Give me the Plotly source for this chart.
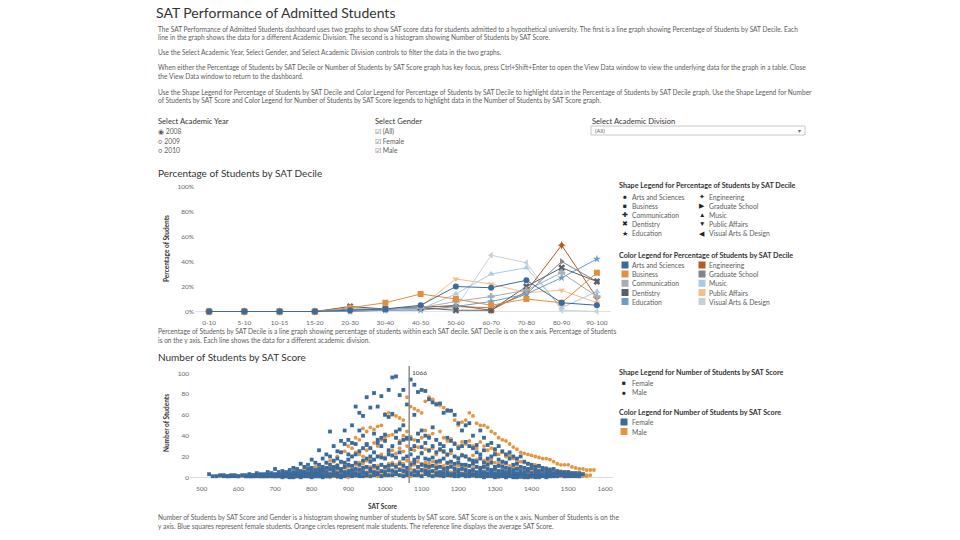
import plotly.graph_objects as go

N = None
# ---------------- data: Percentage of Students by SAT Decile ----------------
deciles = ["0-10", "5-10", "10-15", "15-20", "20-30", "30-40", "40-50",
           "50-60", "60-70", "70-80", "80-90", "90-100"]
divisions = ["Arts and Sciences", "Business", "Communication", "Dentistry", "Education",
             "Engineering", "Graduate School", "Music", "Public Affairs", "Visual Arts & Design"]
pct_arts = [0, 0, 0, 0, 1, 2, 5, 20, 19, 25, 7, 5]
pct_business = [0, 0, 0, 0, 3, 7, 14, 10, 5, 10, 7, 31]
pct_communication = [0, 0, 0, 0, 1, 2, 3, 8, 12, 17, 31, 12]
pct_dentistry = [0, 0, 0, 0, 4, 2, 3, 1, 1, 20, 35, 24]
pct_education = [0, 0, 0, 0, 0, 1, 1, 4, 8, 14, 27, 42]
pct_engineering = [0, 0, 0, 0, 1, 2, 3, 5, 1, 16, 53, 11]
pct_graduate = [0, 0, 0, 0, 2, 2, 4, 4, 3, 14, 40, 24]
pct_music = [0, 0, 0, 0, 0, 1, 2, 14, 30, 35, 3, 16]
pct_public = [0, 0, 0, 0, 1, 2, 4, 26, 22, 15, 17, 7]
pct_visual = [0, 0, 0, 0, 0, 1, 2, 3, 45, 39, 1, 0]
pct_series = [pct_arts, pct_business, pct_communication, pct_dentistry, pct_education,
              pct_engineering, pct_graduate, pct_music, pct_public, pct_visual]
pct_ticks = [0, 20, 40, 60, 80, 100]
pct_tick_labels = ["0%", "20%", "40%", "60%", "80%", "100%"]

# ---------------- data: Number of Students by SAT Score ----------------
sat_scores = list(range(520, 1580, 10))   # score bins 520 ... 1570
avg_sat = 1066
sat_ticks = [500, 600, 700, 800, 900, 1000, 1100, 1200, 1300, 1400, 1500, 1600]
count_ticks = [0, 20, 40, 60, 80, 100]
genders = ["Female", "Male"]

female_1 = [3, N, N, 2, 2, 1, 2, 2, 1, 2,
            2, 3, 2, 4, 3, 3, 5, 4, 8, 5,
            6, 5, 7, 9, 8, 13, 10, 12, 17, 14,
            26, 18, 22, 44, 30, 25, 35, 45, 36, 50,
            68, 62, 59, 77, 67, 81, 68, 78, 60, 84,
            96, 97, 79, 84, 70, 94, 89, 82, 84, 83,
            75, 72, 70, 71, 62, 64, 64, 60, 52, 45,
            50, 52, 40, 31, 45, 38, 31, 33, 27, 30,
            25, 22, 24, 20, 18, 20, 15, 13, 12, 10,
            11, 9, 8, 7, 8, 6, 5, 5, 5, 4,
            4, 4, 3, N, N, N]
female_2 = [N, N, 1, N, 1, N, 1, N, 1, N,
            1, 1, N, 2, 1, 2, 2, 1, 3, 2,
            3, 4, 3, 5, 4, 6, 5, 8, 9, 7,
            12, 10, 14, 20, 16, 18, 24, 32, 22, 33,
            32, 45, 40, 31, 28, 42, 36, 38, 41, 58,
            61, 44, 46, 50, 38, 37, 60, 42, 45, 40,
            38, 48, 36, 32, 30, 38, 35, 32, 28, 30,
            34, 30, 28, 24, 22, 26, 18, 20, 22, 17,
            15, 14, 18, 12, 13, 10, 9, 8, 9, 7,
            6, 7, 5, 5, 4, 4, 3, 3, 2, 2,
            2, 1, N, N, N, N]
female_3 = [N, N, N, N, N, N, N, N, N, N,
            N, 1, 1, N, 1, N, 1, 2, 1, 1,
            2, 2, 3, 2, 4, 3, 5, 4, 6, 5,
            8, 7, 9, 12, 10, 11, 15, 14, 17, 20,
            22, 25, 28, 32, 20, 24, 33, 30, 35, 26,
            30, 38, 33, 36, 37, 27, 30, 35, 29, 33,
            26, 30, 24, 27, 25, 22, 26, 20, 18, 21,
            20, 17, 16, 15, 18, 14, 12, 14, 10, 11,
            10, 9, 8, 7, 8, 6, 5, 6, 4, 4,
            4, 3, 3, 2, 3, 2, 2, 1, 1, 1,
            1, N, N, N, N, N]
female_4 = [N, N, N, N, N, N, N, N, N, N,
            N, N, N, 1, N, N, 1, N, 1, N,
            1, 1, 2, 1, 2, 3, 2, 3, 4, 3,
            5, 6, 5, 8, 7, 9, 8, 10, 12, 11,
            14, 12, 16, 18, 15, 17, 20, 19, 18, 22,
            21, 19, 24, 18, 20, 22, 17, 19, 23, 18,
            17, 19, 15, 16, 18, 14, 15, 13, 14, 12,
            12, 11, 13, 10, 9, 10, 8, 7, 8, 6,
            6, 5, 5, 4, 4, 3, 3, 2, 2, 2,
            2, 1, 1, 1, N, 1, N, 1, N, N,
            N, 1, N, N, N, N]
female_5 = [N, N, N, N, N, N, N, N, N, N,
            1, N, 1, N, N, 1, N, N, 2, 1,
            N, 1, N, 1, 1, 1, 2, 1, 2, 2,
            3, 2, 4, 3, 5, 4, 6, 5, 6, 7,
            8, 7, 9, 10, 8, 11, 9, 12, 10, 11,
            12, 10, 13, 11, 9, 12, 14, 10, 12, 11,
            10, 11, 9, 10, 8, 9, 10, 8, 7, 8,
            7, 6, 7, 5, 6, 5, 4, 5, 4, 3,
            3, 3, 2, 2, 2, 1, 1, 1, 1, N,
            1, N, 1, N, 1, N, N, N, N, N,
            N, N, N, N, N, N]
female_6 = [N, 1, N, N, N, 1, N, 1, N, N,
            N, N, 2, N, N, 1, N, N, 1, N,
            N, N, 1, N, N, 1, 1, N, 1, 1,
            1, 2, 1, 2, 2, 3, 2, 3, 3, 4,
            4, 3, 5, 4, 6, 5, 4, 6, 5, 7,
            6, 5, 7, 6, 5, 4, 6, 5, 7, 6,
            5, 6, 4, 5, 4, 5, 3, 4, 4, 3,
            3, 4, 3, 2, 3, 2, 3, 2, 2, 2,
            2, 1, 2, 1, 1, 1, 1, N, 1, N,
            N, N, N, 1, N, N, N, N, N, N,
            N, N, N, N, N, N]
female_7 = [N, N, N, N, N, N, N, N, N, N,
            N, N, N, N, N, N, N, N, N, N,
            0, 1, 0, 0, 1, 0, 1, 1, 0, 1,
            1, 0, 1, 1, 2, 1, 0, 1, 2, 1,
            2, 1, 1, 2, 1, 2, 3, 1, 2, 2,
            2, 3, 2, 1, 2, 3, 2, 2, 1, 3,
            2, 1, 2, 2, 1, 2, 2, 1, 1, 2,
            1, 1, 2, 1, 1, 0, 1, 1, 0, 1,
            1, 0, 1, 0, 0, 1, 0, 0, N, 0,
            0, N, 0, N, N, N, N, N, N, N,
            N, N, N, N, N, N]

male_1 = [N, N, 1, N, N, 1, N, N, N, 1,
          N, 1, N, 1, 2, 1, 2, 2, 3, 2,
          4, 3, 5, 4, 6, 5, 8, 7, 9, 10,
          12, 10, 14, 16, 15, 20, 24, 25, 30, 28,
          38, 36, 47, 44, 48, 46, 49, 50, 61, 62,
          60, 59, 57, 55, 77, 68, 66, 64, 62, 73,
          77, 75, 71, 69, 67, 65, 64, 55, 50, 53,
          55, 62, 59, 52, 50, 50, 48, 44, 42, 38,
          36, 35, 32, 29, 27, 24, 23, 22, 21, 20,
          19, 18, 18, 17, 15, 13, 12, 12, 12, 10,
          9, 8, 8, 7, 7, 7]
male_2 = [N, N, N, 1, N, N, 1, N, N, N,
          N, N, N, N, 1, N, 1, 1, 1, 2,
          2, 2, 3, 2, 3, 4, 4, 5, 6, 5,
          7, 6, 8, 10, 9, 12, 14, 13, 17, 20,
          24, 22, 20, 26, 28, 33, 30, 36, 38, 40,
          41, 38, 35, 40, 44, 39, 36, 42, 38, 45,
          40, 42, 36, 44, 38, 35, 37, 33, 30, 34,
          32, 35, 30, 28, 34, 30, 26, 28, 24, 22,
          24, 20, 21, 18, 16, 15, 14, 13, 12, 12,
          10, 9, 9, 8, 7, 6, 6, 5, 5, 4,
          4, 3, 3, 2, 2, N]
male_3 = [N, N, N, N, N, N, N, N, N, N,
          N, N, 1, N, N, 1, N, 1, N, 1,
          1, 1, N, 1, 2, 1, 2, 2, 3, 3,
          4, 4, 5, 6, 5, 7, 8, 9, 10, 11,
          12, 14, 13, 16, 18, 17, 20, 22, 19, 24,
          26, 23, 28, 25, 30, 27, 26, 29, 24, 27,
          25, 28, 22, 26, 24, 21, 23, 20, 19, 22,
          20, 18, 21, 17, 19, 16, 15, 17, 14, 13,
          12, 13, 11, 10, 9, 9, 8, 7, 7, 6,
          6, 5, 5, 4, 4, 3, 3, 3, 2, 2,
          2, 2, 1, 1, N, N]
male_4 = [N, N, N, N, N, N, N, N, N, N,
          N, N, N, N, N, N, N, N, N, N,
          N, N, 1, N, 1, 1, N, 1, 2, 1,
          2, 2, 3, 3, 4, 3, 5, 5, 6, 6,
          7, 8, 7, 9, 10, 9, 11, 12, 10, 13,
          14, 12, 15, 13, 16, 14, 12, 15, 13, 14,
          13, 15, 12, 14, 11, 13, 12, 10, 11, 12,
          10, 11, 9, 10, 8, 9, 8, 7, 8, 6,
          6, 5, 6, 5, 4, 4, 3, 3, 3, 2,
          2, 2, 2, 1, 1, 1, 1, N, 1, N,
          N, N, N, N, N, N]
male_5 = [N, N, N, N, N, N, N, N, N, N,
          N, N, N, N, N, N, N, N, N, N,
          N, N, N, N, N, N, N, N, N, N,
          1, 1, 1, 2, 1, 2, 2, 3, 2, 3,
          3, 4, 3, 5, 4, 5, 6, 5, 7, 6,
          7, 6, 8, 7, 6, 8, 7, 9, 6, 8,
          7, 6, 7, 5, 6, 7, 5, 6, 5, 4,
          5, 4, 5, 4, 3, 4, 3, 3, 3, 2,
          2, 2, 2, 1, 2, 1, 1, 1, N, 1,
          N, N, N, N, N, N, N, N, N, N,
          N, N, N, N, N, N]
male_6 = [N, N, N, N, N, N, N, N, N, N,
          N, N, N, N, N, N, N, N, N, N,
          N, N, N, N, N, N, N, N, N, N,
          N, 0, 1, 0, 1, 0, 1, 1, 0, 1,
          1, 2, 1, 1, 2, 2, 1, 2, 3, 2,
          2, 3, 2, 3, 2, 1, 2, 3, 2, 3,
          2, 2, 3, 1, 2, 2, 1, 2, 1, 2,
          1, 2, 1, 1, 1, 2, 1, 1, 1, 0,
          1, 0, 1, 1, 0, 0, 1, 0, 0, N,
          N, N, N, N, N, N, N, N, N, N,
          N, N, N, N, N, N]
female_rows = [female_1, female_2, female_3, female_4, female_5, female_6, female_7]
male_rows = [male_1, male_2, male_3, male_4, male_5, male_6]

# ---------------- styles ----------------
W, H = 960, 540
FONT = "Lato"
div_colors = ["#3a6b9c", "#e38f3c", "#a6adb6", "#5a6069", "#6b9dc9",
              "#b65a1e", "#7e858d", "#a9cae6", "#f4bf88", "#c8cfd6"]
div_symbols = ["circle", "square", "cross", "x", "star",
               "star-diamond", "triangle-right", "triangle-up", "triangle-down", "triangle-left"]
div_glyphs = ["●", "■", "✚", "✖", "★", "✦", "▶", "▲", "▼", "◀"]
gender_glyphs = ["■", "●"]
FEMALE_C, MALE_C = "#3a6b9c", "#e5953f"
gender_colors = [FEMALE_C, MALE_C]


def px(x):
    return x / W


def py(y):
    return 1 - y / H


fig = go.Figure()

# line chart (drawn in reverse so Arts and Sciences sits on top)
for name, vals, col, sym in reversed(list(zip(divisions, pct_series, div_colors, div_symbols))):
    fig.add_trace(go.Scatter(
        x=deciles, y=vals, mode="lines+markers", name=name,
        line=dict(color=col, width=1),
        marker=dict(color=col, symbol=sym, size=6, line=dict(width=0)),
        xaxis="x", yaxis="y", showlegend=False))

# histogram-like scatter
for row in male_rows:
    fig.add_trace(go.Scatter(
        x=sat_scores, y=row, mode="markers", name="Male",
        marker=dict(color=MALE_C, symbol="circle", size=3.8, line=dict(width=0)),
        xaxis="x2", yaxis="y2", showlegend=False))
for row in female_rows:
    fig.add_trace(go.Scatter(
        x=sat_scores, y=row, mode="markers", name="Female",
        marker=dict(color=FEMALE_C, symbol="square", size=3.8, line=dict(width=0)),
        xaxis="x2", yaxis="y2", showlegend=False))

ann = []
shapes = []


def txt(x, y, s, size=6, color="#555", anchor="left", angle=0):
    ann.append(dict(x=px(x), y=py(y), xref="paper", yref="paper", text=s,
                    showarrow=False, xanchor=anchor, yanchor="middle", textangle=angle,
                    borderpad=0, font=dict(size=size, color=color, family=FONT)))


def swatch(x, y, color, s=7):
    shapes.append(dict(type="rect", xref="paper", yref="paper",
                       x0=px(x), x1=px(x + s), y0=py(y + s / 2), y1=py(y - s / 2),
                       line=dict(width=0), fillcolor=color))


CAP = 6.6
TXTC = "#5c5c5c"
txt(155, 13, "SAT Performance of Admitted Students", size=14, color="#333")
para = [
    (29, "The SAT Performance of Admitted Students dashboard uses two graphs to show SAT score data for students admitted to a hypothetical university. The first is a line graph showing Percentage of Students by SAT Decile. Each"),
    (37, "line in the graph shows the data for a different Academic Division. The second is a histogram showing Number of Students by SAT Score."),
    (52, "Use the Select Academic Year, Select Gender, and Select Academic Division controls to filter the data in the two graphs."),
    (68, "When either the Percentage of Students by SAT Decile or Number of Students by SAT Score graph has key focus, press Ctrl+Shift+Enter to open the View Data window to view the underlying data for the graph in a table. Close"),
    (76, "the View Data window to return to the dashboard."),
    (92, "Use the Shape Legend for Percentage of Students by SAT Decile and Color Legend for Percentage of Students by SAT Decile to highlight data in the Percentage of Students by SAT Decile graph. Use the Shape Legend for Number"),
    (100, "of Students by SAT Score and Color Legend for Number of Students by SAT Score legends to highlight data in the Number of Students by SAT Score graph."),
]
for yy, s in para:
    txt(157, yy, s, size=CAP, color=TXTC)

# controls
txt(157, 121, "Select Academic Year", size=7.6, color="#333")
txt(157, 131, "◉ 2008", size=6.8, color=TXTC)
txt(157, 141, "○ 2009", size=6.8, color=TXTC)
txt(157, 150, "○ 2010", size=6.8, color=TXTC)
txt(374, 121, "Select Gender", size=7.6, color="#333")
txt(374, 131, "☑ (All)", size=6.8, color=TXTC)
txt(374, 141, "☑ Female", size=6.8, color=TXTC)
txt(374, 150, "☑ Male", size=6.8, color=TXTC)
txt(591, 121, "Select Academic Division", size=7.6, color="#333")
txt(594, 130.5, "(All)", size=5.8, color="#666")
txt(802, 130.5, "▾", size=6, color="#666", anchor="right")

# chart titles and captions
txt(157, 173, "Percentage of Students by SAT Decile", size=10, color="#333")
txt(166, 249, "<b>Percentage of Students</b>", size=6.5, color="#333", anchor="center", angle=-90)
txt(157, 331, "Percentage of Students by SAT Decile is a line graph showing percentage of students within each SAT decile. SAT Decile is on the x axis. Percentage of Students", size=CAP, color=TXTC)
txt(157, 340, "is on the y axis. Each line shows the data for a different academic division.", size=CAP, color=TXTC)

txt(157, 357, "Number of Students by SAT Score", size=10, color="#333")
txt(166, 423, "<b>Number of Students</b>", size=6.5, color="#333", anchor="center", angle=-90)
txt(383, 506, "<b>SAT Score</b>", size=6.5, color="#333", anchor="center")
txt(157, 517, "Number of Students by SAT Score and Gender is a histogram showing number of students by SAT score. SAT Score is on the x axis. Number of Students is on the", size=CAP, color=TXTC)
txt(157, 526, "y axis. Blue squares represent female students. Orange circles represent male students. The reference line displays the average SAT Score.", size=CAP, color=TXTC)

# legends
LG = 7.2
LE = 6.8
txt(618, 185.5, "<b>Shape Legend for Percentage of Students by SAT Decile</b>", size=LG, color="#333")
txt(618, 255, "<b>Color Legend for Percentage of Students by SAT Decile</b>", size=LG, color="#333")
rows_y_shape = [196.5, 205.5, 214.8, 224, 233]
rows_y_color = [265, 274, 283.3, 292.5, 301.5]
for i, (name, col, g) in enumerate(zip(divisions, div_colors, div_glyphs)):
    c, r = divmod(i, 5)
    gx = 625 if c == 0 else 702
    tx = 631 if c == 0 else 708
    txt(gx, rows_y_shape[r], g, size=6.5, color="#222", anchor="center")
    txt(tx, rows_y_shape[r], name, size=LE, color=TXTC)
    swatch(gx - 3.5, rows_y_color[r], col)
    txt(tx, rows_y_color[r], name, size=LE, color=TXTC)

txt(618, 372.5, "<b>Shape Legend for Number of Students by SAT Score</b>", size=LG, color="#333")
txt(618, 412.5, "<b>Color Legend for Number of Students by SAT Score</b>", size=LG, color="#333")
for gname, gcol, gg, ys, yc in zip(genders, gender_colors, gender_glyphs, [382.5, 392], [422, 431.5]):
    txt(624, ys, gg, size=6.5, color="#222", anchor="center")
    txt(631, ys, gname, size=LE, color=TXTC)
    swatch(620.5, yc, gcol)
    txt(631, yc, gname, size=LE, color=TXTC)

# reference line label
ann.append(dict(x=avg_sat, y=1, xref="x2", yref="y2 domain", text=str(avg_sat), showarrow=False,
                xanchor="left", yanchor="top", xshift=1, yshift=-1,
                font=dict(size=6.5, color="#444", family=FONT)))

shapes += [
    dict(type="rect", xref="paper", yref="paper", x0=px(591), x1=px(805), y0=py(135), y1=py(126),
         line=dict(color="#c8c8c8", width=1), fillcolor="white", layer="below"),
    dict(type="line", xref="x2", yref="y2 domain", x0=avg_sat, x1=avg_sat, y0=0, y1=1,
         line=dict(color="#8c8c8c", width=1.5)),
]

tickfont = dict(size=6.5, color="#666", family=FONT)
fig.update_layout(
    width=W, height=H, margin=dict(l=0, r=0, t=0, b=0),
    paper_bgcolor="white", plot_bgcolor="white", showlegend=False,
    font=dict(family=FONT),
    annotations=ann, shapes=shapes,
    xaxis=dict(domain=[px(195), px(611)], anchor="y", type="category", categoryorder="array",
               categoryarray=deciles, range=[-0.4, 11.4], showgrid=False, zeroline=False,
               showline=False, ticks="", tickfont=tickfont),
    yaxis=dict(domain=[py(317), py(182)], anchor="x", range=[-4.4, 103.6], tickmode="array",
               tickvals=pct_ticks, ticktext=pct_tick_labels,
               showgrid=False, zeroline=True, zerolinecolor="#e2e2e2", zerolinewidth=1,
               showline=False, ticks="", tickfont=tickfont),
    xaxis2=dict(domain=[px(190), px(613)], anchor="y2", range=[468, 1622], tickmode="array",
                tickvals=sat_ticks,
                showgrid=False, zeroline=False, showline=False, ticks="", tickfont=tickfont),
    yaxis2=dict(domain=[py(483), py(366)], anchor="x2", range=[-5.5, 107], tickmode="array",
                tickvals=count_ticks,
                showgrid=False, zeroline=True, zerolinecolor="#dcdcdc", zerolinewidth=1,
                showline=False, ticks="", tickfont=tickfont),
)

fig.write_html(
    "out.html",
    config={"displayModeBar": False},
    post_script="document.body.style.margin='0';document.body.style.padding='0';"
                "document.documentElement.style.overflow='hidden';",
)
